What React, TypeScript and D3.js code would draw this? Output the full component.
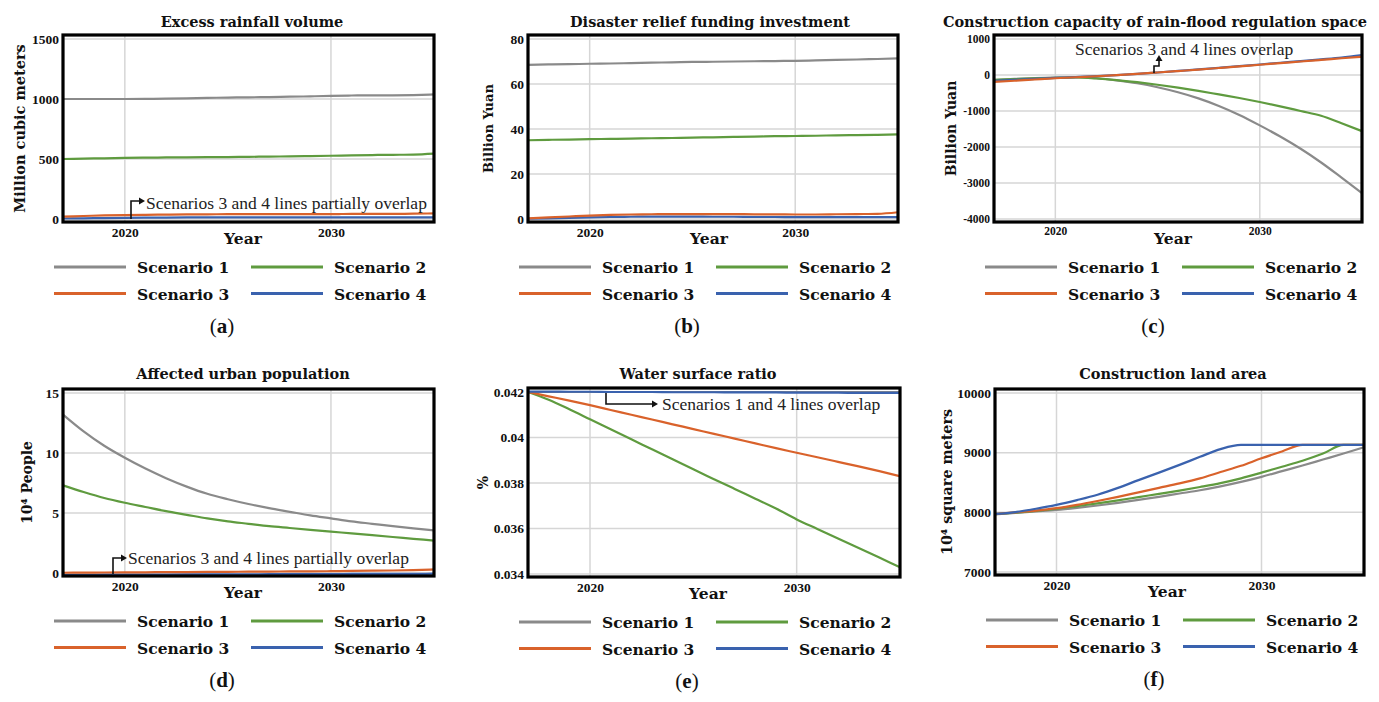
import { useEffect, useRef } from "react";
import * as d3 from "d3";

const YEARS = [2017, 2018, 2019, 2020, 2021, 2022, 2023, 2024, 2025, 2026, 2027, 2028, 2029, 2030, 2031, 2032, 2033, 2034, 2035];
const X_TICKS = [2020, 2030];
const SCENARIOS = ["Scenario 1", "Scenario 2", "Scenario 3", "Scenario 4"];
const COLORS = ["#8a8a8a", "#5f9b3f", "#d9622b", "#3a62ae"];

// (a) Excess rainfall volume
const RAIN_S1 = [1000, 1000, 1000, 1000, 1001, 1003, 1006, 1009, 1012, 1014, 1016, 1019, 1022, 1026, 1029, 1030, 1031, 1033, 1038];
const RAIN_S2 = [500, 503, 506, 509, 511, 513, 514, 515, 516, 518, 520, 522, 524, 527, 530, 533, 535, 537, 545];
const RAIN_S3 = [20, 25, 30, 33, 35, 37, 38, 39, 40, 40, 40, 41, 41, 41, 42, 42, 43, 44, 47];
const RAIN_S4 = [4, 6, 8, 10, 11, 12, 13, 13, 14, 14, 14, 14, 14, 14, 14, 14, 14, 14, 14];
const RAIN_TICKS = [0, 500, 1000, 1500];

// (b) Disaster relief funding investment
const RELIEF_S1 = [68.5, 68.7, 68.8, 69.0, 69.1, 69.3, 69.5, 69.6, 69.8, 69.9, 70.0, 70.1, 70.2, 70.3, 70.5, 70.7, 70.9, 71.1, 71.4];
const RELIEF_S2 = [35.0, 35.2, 35.3, 35.5, 35.6, 35.7, 35.9, 36.0, 36.2, 36.3, 36.5, 36.6, 36.8, 36.9, 37.0, 37.2, 37.3, 37.4, 37.6];
const RELIEF_S3 = [0.3, 0.7, 1.1, 1.5, 1.8, 2.0, 2.1, 2.2, 2.2, 2.2, 2.2, 2.1, 2.1, 2.0, 2.0, 2.1, 2.2, 2.3, 3.0];
const RELIEF_S4 = [0.1, 0.3, 0.5, 0.7, 0.9, 1.0, 1.1, 1.1, 1.1, 1.0, 1.0, 0.9, 0.9, 0.8, 0.8, 0.8, 0.8, 0.8, 0.8];
const RELIEF_TICKS = [0, 20, 40, 60, 80];

// (c) Construction capacity of rain-flood regulation space
const CAP_S1 = [-140, -110, -85, -70, -60, -90, -150, -230, -340, -480, -650, -860, -1110, -1400, -1710, -2050, -2430, -2850, -3280];
const CAP_S2 = [-135, -115, -95, -80, -70, -95, -140, -200, -270, -350, -440, -540, -640, -750, -870, -1000, -1130, -1340, -1560];
const CAP_S3 = [-190, -160, -125, -90, -62, -35, -5, 30, 70, 110, 150, 195, 240, 285, 330, 375, 420, 465, 510];
const CAP_S4 = [-160, -135, -105, -80, -58, -33, -5, 30, 70, 112, 154, 200, 246, 292, 340, 388, 436, 486, 550];
const CAP_TICKS = [-4000, -3000, -2000, -1000, 0, 1000];

// (d) Affected urban population
const POP_S1 = [13.2, 11.8, 10.6, 9.6, 8.7, 7.9, 7.2, 6.6, 6.15, 5.75, 5.4, 5.1, 4.8, 4.55, 4.3, 4.1, 3.9, 3.72, 3.55];
const POP_S2 = [7.3, 6.75, 6.25, 5.85, 5.5, 5.15, 4.85, 4.55, 4.3, 4.1, 3.9, 3.75, 3.6, 3.45, 3.3, 3.15, 3.0, 2.85, 2.7];
const POP_S3 = [0.02, 0.03, 0.04, 0.05, 0.06, 0.07, 0.08, 0.09, 0.1, 0.11, 0.12, 0.13, 0.14, 0.15, 0.17, 0.19, 0.21, 0.24, 0.3];
const POP_S4 = [-0.15, -0.15, -0.14, -0.14, -0.13, -0.13, -0.12, -0.12, -0.11, -0.11, -0.1, -0.1, -0.09, -0.09, -0.08, -0.08, -0.07, -0.07, -0.06];
const POP_TICKS = [0, 5, 10, 15];

// (e) Water surface ratio
const WATER_S1 = [0.042, 0.042, 0.042, 0.042, 0.042, 0.042, 0.042, 0.042, 0.042, 0.042, 0.042, 0.042, 0.042, 0.042, 0.042, 0.042, 0.042, 0.042, 0.042];
const WATER_S2 = [0.042, 0.04166, 0.04124, 0.0408, 0.04036, 0.03992, 0.03948, 0.03904, 0.0386, 0.03817, 0.03774, 0.03731, 0.03688, 0.0364, 0.03598, 0.03556, 0.03514, 0.03472, 0.0343];
const WATER_S3 = [0.042, 0.04181, 0.04162, 0.04142, 0.04121, 0.041, 0.04079, 0.04058, 0.04037, 0.04016, 0.03995, 0.03974, 0.03953, 0.03933, 0.03913, 0.03893, 0.03873, 0.03852, 0.0383];
const WATER_S4 = [0.04202, 0.04202, 0.04201, 0.04201, 0.042, 0.042, 0.042, 0.04199, 0.04199, 0.04199, 0.04198, 0.04198, 0.04198, 0.04197, 0.04197, 0.04197, 0.04196, 0.04196, 0.04196];
const WATER_TICKS = [0.034, 0.036, 0.038, 0.04, 0.042];

// (f) Construction land area
const LAND_S1 = [7965, 7990, 8015, 8040, 8075, 8115, 8160, 8210, 8260, 8315, 8370, 8435, 8510, 8595, 8690, 8785, 8885, 8985, 9090];
const LAND_S2 = [7970, 7995, 8025, 8060, 8105, 8150, 8200, 8255, 8310, 8365, 8425, 8490, 8570, 8665, 8765, 8865, 8985, 9130, 9130];
const LAND_S3 = [7970, 8000, 8030, 8070, 8125, 8190, 8260, 8335, 8410, 8485, 8570, 8675, 8780, 8905, 9020, 9130, 9130, 9130, 9130];
const LAND_S4 = [7973, 8005, 8060, 8125, 8205, 8295, 8410, 8540, 8665, 8795, 8930, 9060, 9130, 9130, 9130, 9130, 9130, 9130, 9130];
const LAND_TICKS = [7000, 8000, 9000, 10000];

const BOLD_FONT = "'DejaVu Serif', serif";
const TEXT_FONT = "'Liberation Serif', serif";

const PANELS = [
  {
    tag: "a", title: "Excess rainfall volume", yLabel: "Million cubic meters",
    series: [RAIN_S1, RAIN_S2, RAIN_S3, RAIN_S4], ticks: RAIN_TICKS,
    frame: [63, 35, 434, 222], titleX: 252, titleY: 27, yearX: 243, yLabelX: 19, yLabelSize: 14.5, tickFont: 13.5,
    order: [0, 1, 3, 2],
    note: { path: "M131,219V201H140", dir: "right", tip: [145, 201], text: "Scenarios 3 and 4 lines partially overlap", tx: 146, ty: 209 },
  },
  {
    tag: "b", title: "Disaster relief funding investment", yLabel: "Billion Yuan",
    series: [RELIEF_S1, RELIEF_S2, RELIEF_S3, RELIEF_S4], ticks: RELIEF_TICKS,
    frame: [528, 35, 898, 222], titleX: 710, titleY: 27, yearX: 709, yLabelX: 488, yLabelSize: 13, tickFont: 13.5,
    order: [0, 1, 3, 2], note: null,
  },
  {
    tag: "c", title: "Construction capacity of rain-flood regulation space", yLabel: "Billion Yuan",
    series: [CAP_S1, CAP_S2, CAP_S3, CAP_S4], ticks: CAP_TICKS,
    frame: [994, 35, 1362, 222], titleX: 1155, titleY: 27, yearX: 1173, yLabelX: 951, yLabelSize: 14, tickFont: 11.5,
    order: [0, 1, 3, 2],
    note: { path: "M1154,73V66H1159V60", dir: "up", tip: [1159, 55], text: "Scenarios 3 and 4 lines overlap", tx: 1075, ty: 55 },
  },
  {
    tag: "d", title: "Affected urban population", yLabel: "10\u2074 People",
    series: [POP_S1, POP_S2, POP_S3, POP_S4], ticks: POP_TICKS,
    frame: [63, 389, 434, 576], titleX: 243, titleY: 379, yearX: 243, yLabelX: 27, yLabelSize: 14, tickFont: 13.5,
    order: [0, 1, 3, 2],
    note: { path: "M113,574V558H122", dir: "right", tip: [127, 558], text: "Scenarios 3 and 4 lines partially overlap", tx: 128, ty: 564 },
  },
  {
    tag: "e", title: "Water surface ratio", yLabel: "%",
    series: [WATER_S1, WATER_S2, WATER_S3, WATER_S4], ticks: WATER_TICKS,
    frame: [528, 388, 900, 577], titleX: 698, titleY: 379, yearX: 708, yLabelX: 483, yLabelSize: 14, tickFont: 13.5,
    order: [0, 1, 2, 3],
    note: { path: "M606,393V404H653", dir: "right", tip: [658, 404], text: "Scenarios 1 and 4 lines overlap", tx: 662, ty: 410 },
  },
  {
    tag: "f", title: "Construction land area", yLabel: "10\u2074 square meters",
    series: [LAND_S1, LAND_S2, LAND_S3, LAND_S4], ticks: LAND_TICKS,
    frame: [995, 389, 1364, 575], titleX: 1173, titleY: 379, yearX: 1167, yLabelX: 947, yLabelSize: 14.3, tickFont: 13.5,
    order: [0, 1, 2, 3], note: null,
  },
];

function drawPanel(svg, p) {
  const [x0, y0, x1, y1] = p.frame;
  const x = d3.scaleLinear().domain([2017, 2035]).range([x0, x1]);
  const y = d3.scaleLinear().domain(d3.extent(p.ticks)).range([y1 - 3, y0 + 4]);
  const g = svg.append("g");

  // grid
  g.append("g").selectAll("line").data(p.ticks).join("line")
    .attr("x1", x0).attr("x2", x1)
    .attr("y1", d => y(d)).attr("y2", d => y(d))
    .attr("stroke", "#d6d6d6").attr("stroke-width", 1.5);
  g.append("g").selectAll("line").data(X_TICKS).join("line")
    .attr("x1", d => x(d)).attr("x2", d => x(d))
    .attr("y1", y0).attr("y2", y1)
    .attr("stroke", "#d6d6d6").attr("stroke-width", 1.5);

  // axes
  g.append("g")
    .attr("transform", `translate(${x0},0)`)
    .call(d3.axisLeft(y).tickValues(p.ticks).tickSize(0).tickPadding(4).tickFormat(d => String(d)))
    .call(ax => {
      ax.select(".domain").remove();
      ax.attr("font-family", TEXT_FONT).attr("font-size", p.tickFont).attr("font-weight", "bold");
      ax.selectAll("text").attr("fill", "#111");
    });
  g.append("g")
    .attr("transform", `translate(0,${y1})`)
    .call(d3.axisBottom(x).tickValues(X_TICKS).tickSize(0).tickPadding(5).tickFormat(d => String(d)))
    .call(ax => {
      ax.select(".domain").remove();
      ax.attr("font-family", TEXT_FONT).attr("font-size", p.tickFont).attr("font-weight", "bold");
      ax.selectAll("text").attr("fill", "#111");
    });

  // series
  const line = d3.line().x((d, i) => x(YEARS[i])).y(d => y(d)).curve(d3.curveMonotoneX);
  p.order.forEach(i => {
    g.append("path")
      .attr("d", line(p.series[i]))
      .attr("fill", "none")
      .attr("stroke", COLORS[i])
      .attr("stroke-width", 2.2);
  });

  // frame
  g.append("rect")
    .attr("x", x0).attr("y", y0)
    .attr("width", x1 - x0).attr("height", y1 - y0)
    .attr("fill", "none").attr("stroke", "#000").attr("stroke-width", 3.2);

  // titles
  g.append("text")
    .attr("x", p.titleX).attr("y", p.titleY)
    .attr("text-anchor", "middle")
    .attr("font-family", BOLD_FONT).attr("font-weight", "bold").attr("font-size", 14.5)
    .attr("fill", "#111")
    .text(p.title);
  g.append("text")
    .attr("x", p.yearX).attr("y", y1 + 22)
    .attr("text-anchor", "middle")
    .attr("font-family", BOLD_FONT).attr("font-weight", "bold").attr("font-size", 15.5)
    .attr("fill", "#111")
    .text("Year");
  const cy = (y0 + y1) / 2;
  g.append("text")
    .attr("transform", `translate(${p.yLabelX},${cy}) rotate(-90)`)
    .attr("text-anchor", "middle").attr("dominant-baseline", "central")
    .attr("font-family", BOLD_FONT).attr("font-weight", "bold").attr("font-size", p.yLabelSize)
    .attr("fill", "#111")
    .text(p.yLabel);

  // annotation
  if (p.note) {
    const n = p.note;
    g.append("path").attr("d", n.path).attr("fill", "none").attr("stroke", "#111").attr("stroke-width", 1.6);
    const [tx, ty] = n.tip;
    const tri = n.dir === "right"
      ? `M${tx},${ty}L${tx - 6},${ty - 3.5}L${tx - 6},${ty + 3.5}Z`
      : `M${tx},${ty}L${tx - 3.5},${ty + 6}L${tx + 3.5},${ty + 6}Z`;
    g.append("path").attr("d", tri).attr("fill", "#111");
    g.append("text")
      .attr("x", n.tx).attr("y", n.ty)
      .attr("font-family", TEXT_FONT).attr("font-size", 17.5)
      .attr("fill", "#222")
      .text(n.text);
  }

  // legend
  const ly = y1 + 45;
  SCENARIOS.forEach((name, i) => {
    const col = i % 2;
    const row = Math.floor(i / 2);
    const lx = x0 - 9 + col * 197;
    const yy = ly + row * 26.5;
    g.append("line")
      .attr("x1", lx).attr("x2", lx + 72)
      .attr("y1", yy).attr("y2", yy)
      .attr("stroke", COLORS[i]).attr("stroke-width", 3);
    g.append("text")
      .attr("x", lx + 83).attr("y", yy + 6)
      .attr("font-family", BOLD_FONT).attr("font-weight", "bold").attr("font-size", 15.5)
      .attr("fill", "#111")
      .text(name);
  });

  // panel tag
  const tag = g.append("text")
    .attr("x", x0 + 159).attr("y", y1 + 111)
    .attr("text-anchor", "middle")
    .attr("font-family", TEXT_FONT).attr("font-size", 21)
    .attr("fill", "#111");
  tag.append("tspan").text("(");
  tag.append("tspan").attr("font-weight", "bold").text(p.tag);
  tag.append("tspan").text(")");
}

export default function App() {
  const svgRef = useRef(null);

  useEffect(() => {
    const svg = d3.select(svgRef.current);
    svg.selectAll("*").remove();
    svg.append("rect").attr("width", 1379).attr("height", 702).attr("fill", "#fff");
    PANELS.forEach(p => drawPanel(svg, p));
  }, []);

  return (
    <svg
      ref={svgRef}
      width={1379}
      height={702}
      style={{ position: "absolute", left: 0, top: 0, display: "block" }}
    />
  );
}
